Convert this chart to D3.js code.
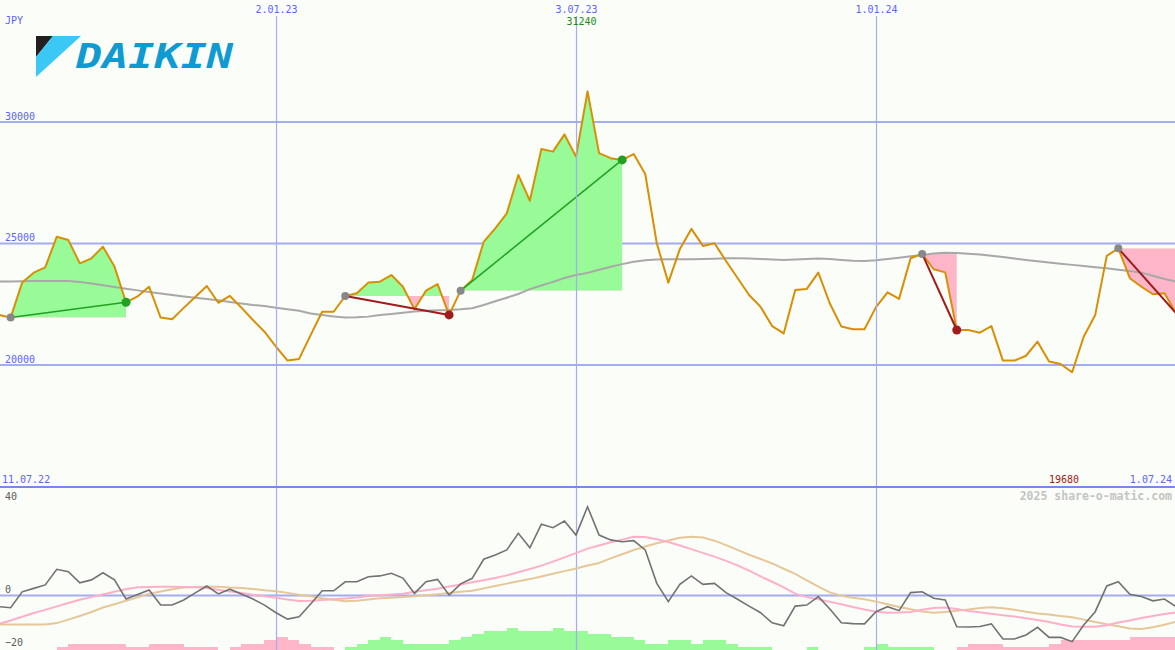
<!DOCTYPE html>
<html><head><meta charset="utf-8">
<script src="https://cdn.jsdelivr.net/npm/d3@7"></script>
<style>
html,body{margin:0;padding:0;background:#fbfdf9;}
svg{display:block;}
text{font-family:"DejaVu Sans Mono",monospace;}
</style></head><body>
<svg id="c" width="1175" height="650"></svg>
<script>
// ---- data (weekly, index 0 = 18.07.22) ----
const price = [22040,21930,23370,23780,24000,25260,25120,24160,24370,24850,
24030,22560,22800,23200,21930,21860,22330,22780,23230,22540,
22820,22340,21830,21350,20730,20160,20230,21210,22170,22170,
22820,22930,23370,23410,23680,23200,22270,23040,23310,22040,
23040,23480,25050,25600,26220,27800,26740,28870,28760,29470,
28550,31240,28700,28490,28420,28660,27840,24990,23370,24750,
25580,24880,24990,24260,23560,22860,22370,21580,21280,23070,
23110,23780,22510,21560,21450,21450,22360,22970,22700,24370,
24550,23920,23790,21420,21420,21310,21580,20160,20160,20360,
20940,20120,20020,19680,21140,22040,24470,24780,23550,23200,
22890,22930,22110];
const movingAvg = [23410,23420,23430,23436,23436,23436,23436,23400,23330,23260,
23190,23120,23050,22980,22920,22860,22800,22750,22700,22640,
22570,22510,22450,22410,22340,22270,22215,22100,22040,21980,
21930,21940,21970,22037,22080,22130,22180,22210,22230,22243,
22270,22313,22450,22600,22750,22900,23100,23250,23400,23560,
23680,23770,23900,24020,24130,24230,24290,24320,24330,24330,
24330,24340,24350,24370,24370,24360,24340,24320,24300,24320,
24340,24360,24340,24300,24270,24260,24290,24340,24390,24450,
24510,24570,24600,24590,24560,24530,24480,24420,24360,24300,
24250,24200,24150,24100,24050,24000,23960,23900,23850,23780,
23650,23520,23420];
const momentum = [-4.4,-4.8,1.2,2.5,3.8,9.7,8.8,4.6,5.7,8.4,
5.7,-1.5,0.2,1.9,-3.8,-3.8,-1.9,0.8,3.4,0.4,
2.2,0.4,-1.5,-3.8,-6.7,-9.1,-8.2,-3.4,1.6,1.6,
5.0,5.0,6.9,7.2,8.2,6.4,0.6,5.0,5.9,0,
4.2,6.3,13.5,15.1,17.0,23.3,17.8,26.7,25.4,27.9,
22.6,33.3,22.6,20.8,20.1,20.5,17.0,4.4,-2.5,4.0,
7.2,4.0,4.4,0.9,-1.6,-4.2,-6.7,-10.5,-11.6,-4.2,
-3.8,-0.6,-5.3,-10.5,-10.8,-10.9,-6.3,-4.4,-5.9,0.9,
1.2,-1.2,-1.9,-12.0,-12.1,-11.9,-10.9,-16.6,-16.6,-15.1,
-12.2,-16.0,-16.0,-17.6,-11.3,-6.3,3.4,5.0,0.3,-0.6,
-2.2,-1.5,-4.4];
const signalFast = [-10.9,-9.6,-8.2,-6.8,-5.6,-4.3,-3.0,-1.8,-0.8,0.2,
1.2,2.2,2.9,3.0,3.1,3.1,3.0,2.9,2.6,2.0,
1.3,0.8,0.1,-0.5,-1.0,-1.7,-2.3,-2.2,-1.9,-1.6,
-1.3,-0.9,-0.4,-0.1,0.2,0.5,1.2,1.8,2.4,3.2,
4.0,4.8,5.6,6.4,7.4,8.6,9.8,11.1,12.6,14.2,
15.8,17.5,18.7,19.9,20.9,22.0,21.9,21.0,20.0,18.7,
17.3,15.9,14.5,12.9,11.2,9.2,7.0,5.0,2.9,0.5,
-0.8,-1.6,-2.6,-3.5,-4.5,-5.5,-6.3,-6.7,-6.6,-6.4,
-5.6,-4.9,-4.7,-5.3,-6.0,-6.5,-7.1,-7.6,-8.1,-8.8,
-9.4,-10.2,-11.1,-11.9,-12.0,-12.0,-11.4,-10.4,-9.6,-8.7,
-7.9,-7.2,-6.6];
const signalSlow = [-11.1,-11.1,-11.1,-11.1,-11.1,-10.6,-9.3,-7.9,-6.4,-4.7,
-3.5,-2.2,-0.9,0.5,1.3,2.2,2.8,3.0,3.1,3.1,
2.8,2.6,2.3,1.8,1.4,0.8,0.1,-0.5,-1.2,-1.8,
-2.4,-2.2,-1.7,-1.2,-1.0,-0.8,-0.5,-0.1,0.3,0.8,
1.2,1.6,2.5,3.4,4.3,5.2,6.0,7.0,8.0,9.0,
10.0,11.1,12.1,13.8,15.4,17.0,18.3,19.5,20.6,21.6,
22.0,21.7,20.5,18.8,17.0,15.2,13.6,11.9,9.9,8.0,
5.5,3.2,1.0,-0.3,-1.0,-1.6,-2.5,-3.5,-4.5,-5.4,
-6.2,-6.7,-6.4,-5.9,-5.5,-4.9,-4.6,-5.0,-5.6,-6.3,
-7.0,-7.4,-7.9,-8.4,-9.3,-10.2,-11.0,-11.8,-12.6,-12.8,
-12.2,-11.2,-10.1];
const histogram = [0,0,0,0,0,-1,-2,-2,-2,-2,
-2,-1,-1,-2,-2,-2,-1,-1,-1,0,
-1,-2,-2,-3,-4,-3,-2,-1,-1,0,
1,2,3,4,3,2,2,2,2,3,
4,5,6,6,7,6,6,6,7,6,
6,5,5,4,4,3,2,2,3,3,
2,3,3,2,1,1,1,0,0,0,
1,0,0,0,0,1,2,1,1,1,
1,0,0,-1,-2,-2,-2,-1,-1,-1,
-1,-2,-3,-3,-3,-3,-3,-3,-4,-4,
-4,-4,-4];
const sigStart = [1, 30, 40, 80, 97];
const sigEnd   = [11, 39, 54, 83, 102];
const sigClosed = [true, true, true, true, false];
const priceTicks = [20000, 25000, 30000];
const oscTicks = [40, 0, -20];
const dateTickIndex = [24, 50, 76];
const dateTickLabels = ["2.01.23", "3.07.23", "1.01.24"];
const firstLabel = "11.07.22", lastLabel = "1.07.24";

// ---- layout ----
const W = 1175, H = 650, mainBottom = 487;
const svg = d3.select("#c");
svg.append("rect").attr("width", W).attr("height", H).attr("fill", "#fbfdf9");
const defs = svg.append("defs");
defs.append("clipPath").attr("id", "mainClip").append("rect").attr("x", 0).attr("y", 0).attr("width", W).attr("height", mainBottom - 1);
defs.append("clipPath").attr("id", "lowClip").append("rect").attr("x", 0).attr("y", mainBottom + 1).attr("width", W).attr("height", H - mainBottom);

const x = d3.scaleLinear().domain([0, 102]).range([-0.9, 1176]);
const y = d3.scaleLinear().domain([15000, 35000]).range([486, 0]);
const y2 = d3.scaleLinear().domain([-20, 40]).range([648, 489]);
const hy = d3.scaleLinear().domain([0, 7]).range([650, 627.6]);

const gridCol = "#a4acf2", txtBlue = "#5a64ff";

// horizontal price grid via axis
svg.append("g").attr("class", "ygrid")
  .call(d3.axisRight(y).tickValues(priceTicks).tickSize(W).tickFormat(d3.format("d")))
  .call(g => {
    g.select(".domain").remove();
    g.selectAll("line").attr("stroke", gridCol).attr("stroke-width", 2);
    g.selectAll("text").attr("x", 5).attr("dy", -2.5).attr("text-anchor", "start")
      .attr("fill", txtBlue).attr("font-size", 10).attr("font-family", "DejaVu Sans Mono");
  });

// lower panel grid (zero line) via axis
svg.append("g").attr("class", "y2grid")
  .call(d3.axisRight(y2).tickValues(oscTicks).tickSize(W).tickFormat(d3.format("d")))
  .call(g => {
    g.select(".domain").remove();
    g.selectAll("line").attr("stroke", d => d === 0 ? gridCol : "none").attr("stroke-width", 2);
    g.selectAll("text").attr("x", 5).attr("dy", d => d === 40 ? 10.5 : -2.5).attr("text-anchor", "start")
      .attr("fill", "#5a5a5a").attr("font-size", 10).attr("font-family", "DejaVu Sans Mono");
  });

// histogram
svg.append("g").selectAll("rect").data(histogram).join("rect")
  .attr("x", (d, i) => x(i)).attr("width", (d, i) => x(i + 1) - x(i))
  .attr("y", d => hy(Math.abs(d))).attr("height", d => 650 - hy(Math.abs(d)))
  .attr("fill", d => d > 0 ? "#98fb98" : "#ffb6c8")
  .attr("shape-rendering", "crispEdges");

// signal fills
const gMain = svg.append("g").attr("clip-path", "url(#mainClip)");
const gFill = gMain.append("g");
sigStart.forEach((s, k) => {
  const e = sigEnd[k], base = price[s];
  const idx = d3.range(s, e + 1);
  const area = d3.area().x(i => x(i)).y0(y(base)).y1(i => y(price[i]));
  defs.append("clipPath").attr("id", "up" + k).append("rect")
    .attr("x", 0).attr("y", 0).attr("width", W).attr("height", y(base));
  defs.append("clipPath").attr("id", "dn" + k).append("rect")
    .attr("x", 0).attr("y", y(base)).attr("width", W).attr("height", mainBottom - y(base));
  gFill.append("path").attr("d", area(idx)).attr("fill", "#98fb98").attr("clip-path", `url(#up${k})`);
  gFill.append("path").attr("d", area(idx)).attr("fill", "#ffb6c8").attr("clip-path", `url(#dn${k})`);
});

// vertical date grid via axis
svg.append("g").attr("class", "xgrid").attr("transform", "translate(0,16)")
  .call(d3.axisBottom(x).tickValues(dateTickIndex).tickSize(H - 16).tickFormat((d, i) => dateTickLabels[i]))
  .call(g => {
    g.select(".domain").remove();
    g.selectAll("line").attr("stroke", gridCol).attr("stroke-width", 1.2);
    g.selectAll("text").attr("y", -3).attr("dy", 0).attr("text-anchor", "middle")
      .attr("fill", txtBlue).attr("font-size", 10).attr("font-family", "DejaVu Sans Mono");
  });

// moving average
const lineOf = (sc, arr) => d3.line().x((d, i) => x(i)).y(d => sc(d))(arr);
gMain.append("path").attr("d", lineOf(y, movingAvg)).attr("fill", "none")
  .attr("stroke", "#a8a8a8").attr("stroke-width", 2);

// price
gMain.append("path").attr("d", lineOf(y, price)).attr("fill", "none")
  .attr("stroke", "#d98f04").attr("stroke-width", 2).attr("stroke-linejoin", "round");

// signal trend lines and dots
sigStart.forEach((s, k) => {
  const e = sigEnd[k];
  const win = price[e] >= price[s];
  const col = win ? "#22a022" : "#a01c1c";
  gMain.append("line").attr("x1", x(s)).attr("y1", y(price[s])).attr("x2", x(e)).attr("y2", y(price[e]))
    .attr("stroke", col).attr("stroke-width", win ? 1.5 : 2);
  gMain.append("circle").attr("cx", x(s)).attr("cy", y(price[s])).attr("r", 4).attr("fill", "#888");
  if (sigClosed[k]) {
    gMain.append("circle").attr("cx", x(e)).attr("cy", y(price[e])).attr("r", 4.5).attr("fill", col);
  }
});

// lower panel lines
const gLow = svg.append("g").attr("clip-path", "url(#lowClip)");
gLow.append("path").attr("d", lineOf(y2, signalSlow)).attr("fill", "none").attr("stroke", "#e6c898").attr("stroke-width", 2);
gLow.append("path").attr("d", lineOf(y2, signalFast)).attr("fill", "none").attr("stroke", "#ffb0c8").attr("stroke-width", 2);
gLow.append("path").attr("d", lineOf(y2, momentum)).attr("fill", "none").attr("stroke", "#727272").attr("stroke-width", 1.6);

// panel separator
svg.append("line").attr("x1", 0).attr("x2", W).attr("y1", mainBottom).attr("y2", mainBottom)
  .attr("stroke", "#7a86f0").attr("stroke-width", 2);

// texts
const T = (tx, ty, s, col, anchor, size, weight) => svg.append("text").attr("x", tx).attr("y", ty).text(s)
  .attr("fill", col).attr("text-anchor", anchor || "start").attr("font-size", size || 10)
  .attr("font-weight", weight || "normal");
T(5, 24, "JPY", txtBlue);
T(2, 483, firstLabel, txtBlue);
T(1172, 483, lastLabel, txtBlue, "end");
const iMax = d3.maxIndex(price), iMin = d3.minIndex(price);
T(x(iMax) - 6, 25, String(price[iMax]), "#1a8a1a", "middle");
T(x(iMin) + 7, 483, String(price[iMin]), "#a01818", "end");
T(1172, 500, "2025 share-o-matic.com", "#c4c4c4", "end", 11.5, "bold");

// logo
svg.append("polygon").attr("points", "36,36 53,36 36,57").attr("fill", "#231f20");
svg.append("polygon").attr("points", "53,36 81,36 36,77 36,57").attr("fill", "#3cc8f5");
svg.append("text").attr("x", 76).attr("y", 68).text("DAIKIN")
  .attr("font-family", "Liberation Sans, Arial, sans-serif").attr("font-weight", "bold").attr("font-style", "italic")
  .attr("font-size", 33).attr("fill", "#0f9ad2").attr("textLength", 157).attr("lengthAdjust", "spacingAndGlyphs");
</script>
</body></html>
